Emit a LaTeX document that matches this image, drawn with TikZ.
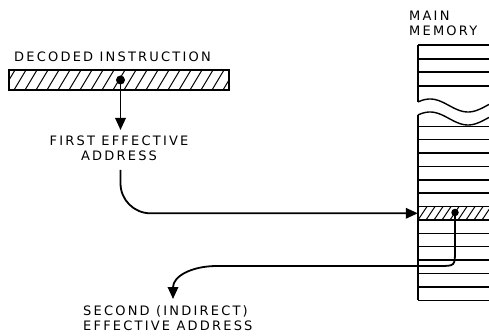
\documentclass[tikz,border=0pt]{standalone}
\usepackage{fontspec}
\setmainfont{DejaVu Sans}[LetterSpace=17]
\usetikzlibrary{arrows.meta}
\begin{document}
\begin{tikzpicture}[x=1pt,y=-1pt,
  conn/.style={line width=1.8pt,-{Triangle[length=12pt,width=10.5pt]}},
  memline/.style={line width=1.4pt},
  hatch/.style={line width=1pt},
  lbl/.style={inner sep=0pt,font=\fontsize{13}{15}\selectfont},
  dotmark/.style={circle,fill=black,inner sep=0pt,minimum size=9pt}]
\useasboundingbox (0,0) rectangle (489,336);

% decoded instruction bar
\node[draw,line width=1.4pt,minimum width=220pt,minimum height=20pt,inner sep=0pt] (di) at (119,80) {};
\begin{scope}
  \clip (9,70) rectangle (229,90);
  \foreach \x in {-8,3,...,230} \draw[hatch] (\x,90) -- (\x+12,70);
\end{scope}
\node[lbl,anchor=base west] (dit) at (14,62) {DECODED INSTRUCTION};
\node[dotmark] (d1) at (120.5,80) {};

% first effective address
\node[lbl,align=center,anchor=north] (fea) at (119,136) {FIRST EFFECTIVE\\ADDRESS};
\coordinate (a1) at (120.5,130);
\coordinate (s2) at (120.5,170);

% main memory
\node[lbl,align=left,anchor=north west] (mm) at (409,11) {MAIN\\MEMORY};
\begin{scope}
  \clip (410,40) rectangle (489,310);
  \draw[memline] (418,45) -- (418,102);
  \foreach \y in {45,59,72,86} \draw[memline] (418,\y) -- (489,\y);
  \draw[memline] plot[domain=418:489,samples=50] (\x,{105.5-6.5*cos((\x-430)/76*360)});
  \draw[memline] plot[domain=418:489,samples=50] (\x,{118.5-6.5*cos((\x-430)/76*360)});
  \draw[memline] (418,115) -- (418,300.3);
  \foreach \k in {0,...,13} \draw[memline] (418,126.3+13.38*\k) -- (489,126.3+13.38*\k);
  \clip (418,206.6) rectangle (489,220);
  \foreach \x in {410,418,...,495} \draw[hatch] (\x,220) -- (\x+9,206.6);
\end{scope}
\node[minimum width=71pt,minimum height=13.4pt,inner sep=0pt] (cell) at (453.5,213.3) {};
\node[dotmark,minimum size=7.5pt] (d2) at (455,212.5) {};

% second effective address
\node[lbl,align=left,anchor=north west] (sea) at (83,305.5) {SECOND (INDIRECT)\\EFFECTIVE ADDRESS};
\coordinate (a3) at (173,299);

% connectors
\draw[conn] (d1.center) -- (a1);
\draw[conn,rounded corners=30pt] (s2) |- (cell.west);
\draw[conn] (d2.center) -- (455,250) .. controls (455,266) .. (439,266) -- (217,266)
  .. controls (192,266) and (173,276) .. (a3);
\end{tikzpicture}
\end{document}
